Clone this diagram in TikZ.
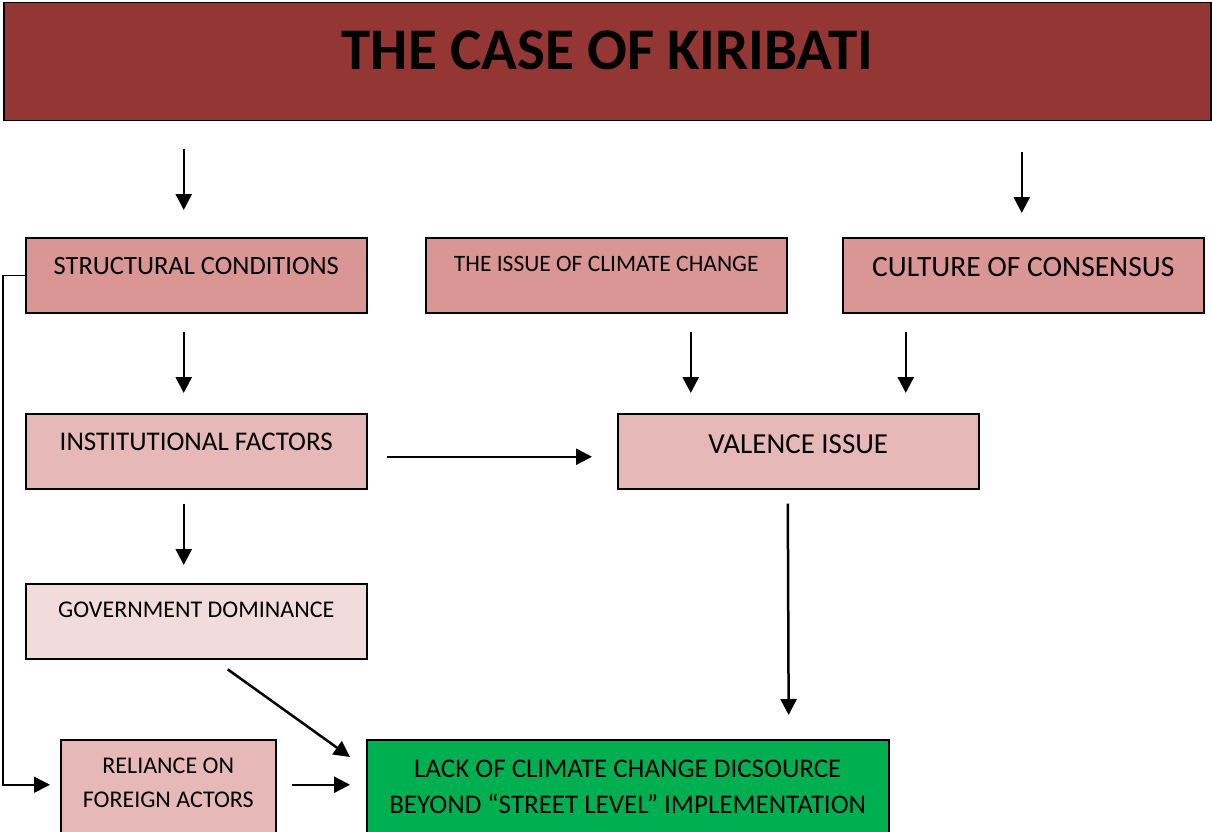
\documentclass[tikz,border=0pt]{standalone}
\usepackage{fontspec}
\setmainfont{Carlito}
\usepackage{xcolor}
\usetikzlibrary{arrows.meta,positioning,calc}
\definecolor{titlered}{HTML}{943634}
\definecolor{rosedark}{HTML}{D99694}
\definecolor{rosemid}{HTML}{E6B9B8}
\definecolor{roselight}{HTML}{F2DCDB}
\definecolor{lackgreen}{HTML}{00B050}
\tikzset{box/.style={rectangle,draw=black,line width=1.5pt,anchor=north west,
    minimum width=341pt,minimum height=75pt,inner sep=0pt},
  widebox/.style={box,minimum width=361pt},
  arr/.style={-{Triangle[length=16pt,width=16pt]},line width=2.5pt}}

\begin{document}
\begin{tikzpicture}[x=1pt,y=-1pt]

 \useasboundingbox (0,0) rectangle (1212,832);

%Title bar
 \node[box,fill=titlered,minimum width=1207pt,minimum height=118pt,
       text height=67pt,text depth=51pt,font=\fontsize{59}{60}\selectfont\bfseries]
       (title) at (3,2) {THE CASE OF KIRIBATI};

%Top row
 \node[box,fill=rosedark,text height=36.5pt,text depth=38.5pt,font=\fontsize{26.5}{30}\selectfont]
       (struct) at (25,237) {STRUCTURAL CONDITIONS};
 \node[widebox,fill=rosedark,text height=33.5pt,text depth=41.5pt,font=\fontsize{23.5}{28}\selectfont]
       (issue) at (425,237) {THE ISSUE OF CLIMATE CHANGE};
 \node[widebox,fill=rosedark,text height=38.5pt,text depth=36.5pt,font=\fontsize{29.5}{34}\selectfont]
       (culture) at (842,237) {CULTURE OF CONSENSUS};

%Middle rows
 \node[box,fill=rosemid,text height=36.7pt,text depth=38.3pt,font=\fontsize{27}{31}\selectfont]
       (inst) at (25,413) {INSTITUTIONAL FACTORS};
 \node[widebox,fill=rosemid,text height=39.3pt,text depth=35.7pt,font=\fontsize{29}{33}\selectfont]
       (valence) at (617,413) {VALENCE ISSUE};
 \node[box,fill=roselight,text height=33.7pt,text depth=41.3pt,font=\fontsize{24}{28}\selectfont]
       (gov) at (25,583) {GOVERNMENT DOMINANCE};

%Bottom row (cut by the page edge)
 \node[box,fill=rosemid,minimum width=215pt,minimum height=100pt,align=center,
       text depth=15pt,font=\fontsize{24}{34}\selectfont]
       (reliance) at (60,739) {RELIANCE ON\\FOREIGN ACTORS};
 \node[box,fill=lackgreen,minimum width=522pt,minimum height=100pt,align=center,
       text depth=7pt,font=\fontsize{27}{36}\selectfont]
       (lack) at (366,739) {LACK OF CLIMATE CHANGE DICSOURCE\\BEYOND ``STREET LEVEL'' IMPLEMENTATION};

%Arrows
 \draw[arr,shorten <=27pt,shorten >=27pt] ([xshift=-12.5pt]title.south -| struct.north) -- ([xshift=-12.5pt]struct.north);
 \draw[arr,shorten <=30pt,shorten >=24pt] ([xshift=-1.5pt]title.south -| culture.north) -- ([xshift=-1.5pt]culture.north);
 \draw[arr,shorten <=18pt,shorten >=20pt] ([xshift=-12.5pt]struct.south) -- ([xshift=-12.5pt]inst.north);
 \draw[arr,shorten <=18pt,shorten >=20pt] ([xshift=84.5pt]issue.south) -- ([xshift=-107.5pt]valence.north);
 \draw[arr,shorten <=18pt,shorten >=20pt] ([xshift=-117.5pt]culture.south) -- ([xshift=107.5pt]valence.north);
 \draw[arr,shorten <=19pt,shorten >=25pt] ([yshift=-5.5pt]inst.east) -- ([yshift=-5.5pt]valence.west);
 \draw[arr,shorten <=14pt,shorten >=18pt] ([xshift=-12.5pt]inst.south) -- ([xshift=-12.5pt]gov.north);
 \draw[arr,shorten <=14pt,shorten >=24pt] ([xshift=-10.5pt]valence.south) -- ([xshift=161pt]lack.north);
 \draw[arr,shorten <=17pt] ([xshift=17.7pt]gov.south) -- ([xshift=-16pt,yshift=-18pt]lack.north west);
 \draw[arr,shorten <=15pt,shorten >=16pt] ([yshift=5pt]reliance.east) -- ([yshift=5pt]lack.west);
 \draw[arr,line width=1.5pt,shorten >=10pt] (struct.west) -- ++(-22,0) |- ([yshift=5pt]reliance.west);

\end{tikzpicture}
\end{document}
